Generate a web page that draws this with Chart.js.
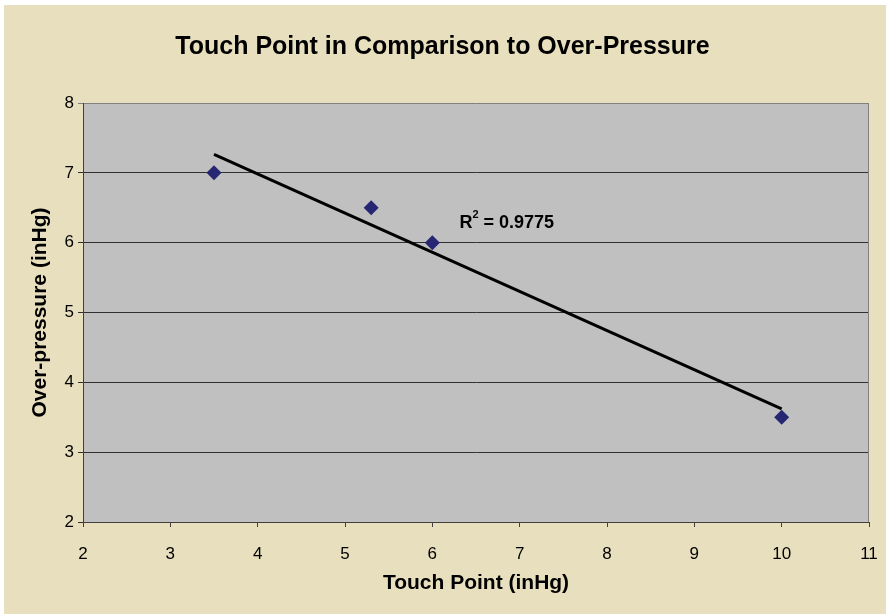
<!DOCTYPE html>
<html>
<head>
<meta charset="utf-8">
<script src="https://cdn.jsdelivr.net/npm/chart.js@4"></script>
<style>
  body { margin: 0; background: #ffffff; }
  #wrap { position: absolute; left: 4px; top: 5px; width: 882px; height: 609px; background: #e8dfbe; }
</style>
</head>
<body>
<div id="wrap"><canvas id="myChart"></canvas></div>
<script>
const touchPoint = [3.5, 5.3, 6, 10];
const overPressure = [7, 6.5, 6, 3.5];
const xTicks = [2, 3, 4, 5, 6, 7, 8, 9, 10, 11];
const yTicks = [2, 3, 4, 5, 6, 7, 8];

// least squares fit, same as the Excel trendline
const n = touchPoint.length;
const mx = touchPoint.reduce((a, b) => a + b, 0) / n;
const my = overPressure.reduce((a, b) => a + b, 0) / n;
let sxy = 0, sxx = 0, syy = 0;
for (let i = 0; i < n; i++) {
  sxy += (touchPoint[i] - mx) * (overPressure[i] - my);
  sxx += (touchPoint[i] - mx) ** 2;
  syy += (overPressure[i] - my) ** 2;
}
const slope = sxy / sxx;
const icpt = my - slope * mx;
const r2 = (sxy * sxy) / (sxx * syy);
const xMin = Math.min(...touchPoint), xMax = Math.max(...touchPoint);
const trend = [{ x: xMin, y: icpt + slope * xMin }, { x: xMax, y: icpt + slope * xMax }];

const FONT = '"Liberation Sans", Arial, sans-serif';

const plotBg = {
  id: 'plotBg',
  beforeDraw(chart) {
    const { ctx, chartArea: a } = chart;
    ctx.save();
    ctx.fillStyle = '#c0c0c0';
    ctx.fillRect(a.left, a.top, a.width, a.height);
    ctx.restore();
  },
  afterDatasetsDraw(chart) {
    const { ctx, chartArea: a } = chart;
    ctx.save();
    ctx.strokeStyle = '#808080';
    ctx.lineWidth = 1;
    ctx.beginPath();
    ctx.moveTo(a.right - 0.5, a.top);
    ctx.lineTo(a.right - 0.5, a.bottom);
    ctx.stroke();
    // R² label
    const x = chart.scales.x.getPixelForValue(6.31);
    const y = chart.scales.y.getPixelForValue(6.21);
    ctx.fillStyle = '#000';
    ctx.textBaseline = 'alphabetic';
    ctx.font = 'bold 18px ' + FONT;
    ctx.fillText('R', x, y);
    const w1 = ctx.measureText('R').width;
    ctx.font = 'bold 11px ' + FONT;
    ctx.fillText('2', x + w1, y - 10);
    const w2 = ctx.measureText('2').width;
    ctx.font = 'bold 18px ' + FONT;
    ctx.fillText(' = ' + r2.toFixed(4), x + w1 + w2, y);
    ctx.restore();
  }
};

new Chart(document.getElementById('myChart'), {
  type: 'scatter',
  data: {
    datasets: [{
      label: 'Data',
      data: touchPoint.map((v, i) => ({ x: v, y: overPressure[i] })),
      pointStyle: 'rectRot',
      pointRadius: 7.5,
      pointHoverRadius: 7.5,
      backgroundColor: '#262673',
      borderColor: '#262673',
      borderWidth: 0
    }, {
      label: 'Trend',
      data: trend,
      showLine: true,
      pointRadius: 0,
      borderColor: '#000000',
      borderWidth: 3,
      order: 1
    }]
  },
  options: {
    responsive: true,
    maintainAspectRatio: false,
    animation: false,
    layout: { padding: { left: 0, right: 5, top: 0, bottom: 0 } },
    plugins: {
      legend: { display: false },
      tooltip: { enabled: false },
      title: {
        display: true,
        text: 'Touch Point in Comparison to Over-Pressure',
        color: '#000',
        font: { family: FONT, size: 25, weight: 'bold' },
        padding: { top: 27, bottom: 41 }
      }
    },
    scales: {
      x: {
        type: 'linear',
        min: 2,
        max: 11,
        afterBuildTicks: s => { s.ticks = xTicks.map(v => ({ value: v })); },
        afterFit: s => { s.height = 92; s.paddingLeft = 0; s.paddingRight = 17; },
        grid: { drawOnChartArea: false, drawTicks: true, tickLength: 5, color: '#404040' },
        border: { color: '#404040' },
        ticks: {
          color: '#000',
          padding: 17,
          font: { family: FONT, size: 17 }
        },
        title: {
          display: true,
          text: 'Touch Point (inHg)',
          color: '#000',
          font: { family: FONT, size: 21, weight: 'bold' },
          padding: { top: 0, bottom: 18.4 }
        }
      },
      y: {
        type: 'linear',
        min: 2,
        max: 8,
        afterBuildTicks: s => { s.ticks = yTicks.map(v => ({ value: v })); },
        afterFit: s => { s.width = 79; s.paddingTop = 0; s.paddingBottom = 0; },
        grid: {
          drawTicks: true,
          tickLength: 5,
          color: c => (c.tick && c.tick.value === 8 ? '#808080' : '#303030')
        },
        border: { color: '#404040' },
        ticks: {
          color: '#000',
          padding: 4,
          font: { family: FONT, size: 17 }
        },
        title: {
          display: true,
          text: 'Over-pressure (inHg)',
          color: '#000',
          font: { family: FONT, size: 21, weight: 'bold' },
          padding: { top: 23.4, bottom: 0 }
        }
      }
    }
  },
  plugins: [plotBg]
});
</script>
</body>
</html>
